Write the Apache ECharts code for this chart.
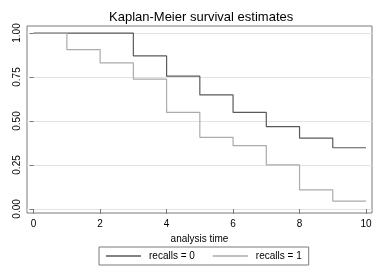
<!DOCTYPE html>
<html><head><meta charset="utf-8">
<script src="https://cdn.jsdelivr.net/npm/echarts@6/dist/echarts.min.js"></script>
<style>html,body{margin:0;padding:0;background:#fff}#c{width:382px;height:278px}</style>
</head><body><div id="c"></div>
<script>
const titleText = 'Kaplan-Meier survival estimates';
const xName = 'analysis time';
const seriesNames = ['recalls = 0', 'recalls = 1'];
const times0 = [0, 3, 4, 5, 6, 7, 8, 9, 10];
const surv0 = [1, 0.87, 0.755, 0.648, 0.549, 0.468, 0.403, 0.348, 0.348];
const times1 = [0, 1, 2, 3, 4, 5, 6, 7, 8, 9, 10];
const surv1 = [1, 0.906, 0.83, 0.738, 0.549, 0.407, 0.36, 0.25, 0.108, 0.045, 0.045];
const xTicks = [0, 2, 4, 6, 8, 10];
const yTicks = [0, 0.25, 0.5, 0.75, 1];

const font = 'Liberation Sans';
const frameColor = '#7a7a7a';
const colors = ['#5a5a5a', '#ababab'];
const chart = echarts.init(document.getElementById('c'));
chart.setOption({
  animation: false,
  backgroundColor: '#fff',
  title: { text: titleText, left: 104, top: 6,
    textStyle: { fontFamily: font, fontSize: 13, fontWeight: 'normal', color: '#000' } },
  grid: { left: 27, right: 10, top: 26, bottom: 65, show: true, borderColor: frameColor, borderWidth: 1, backgroundColor: '#fff' },
  xAxis: {
    type: 'value', min: -0.2, max: 10.18,
    name: xName, nameLocation: 'middle', nameGap: 19,
    nameTextStyle: { fontFamily: font, fontSize: 10, color: '#000' },
    axisLine: { show: false },
    axisTick: { show: true, customValues: xTicks, length: 5, lineStyle: { color: frameColor } },
    axisLabel: { customValues: xTicks, margin: 6, fontFamily: font, fontSize: 10, color: '#000' },
    splitLine: { show: false }
  },
  yAxis: {
    type: 'value', min: -0.023, max: 1.04,
    axisLine: { show: false },
    axisTick: { show: true, customValues: yTicks, length: 4, lineStyle: { color: frameColor } },
    axisLabel: { customValues: yTicks, rotate: 90, margin: 5, fontFamily: font, fontSize: 10, color: '#000',
      formatter: v => v.toFixed(2) },
    splitLine: { show: true, lineStyle: { color: '#e2e2e2', width: 1 } }
  },
  legend: {
    data: seriesNames.map(n => ({ name: n, icon: 'rect' })), left: 99, top: 247, orient: 'horizontal',
    padding: [4, 7, 4, 7], borderColor: frameColor, borderWidth: 1,
    itemGap: 18, itemWidth: 35, itemHeight: 1.3,
    textStyle: { fontFamily: font, fontSize: 10, color: '#000', padding: [0, 0, 0, 3] }
  },
  series: [
    { name: seriesNames[0], type: 'line', step: 'end', symbol: 'none', color: colors[0],
      lineStyle: { width: 1.2, color: colors[0] },
      data: times0.map((t, i) => [t, surv0[i]]) },
    { name: seriesNames[1], type: 'line', step: 'end', symbol: 'none', color: colors[1],
      lineStyle: { width: 1.2, color: colors[1] },
      data: times1.map((t, i) => [t, surv1[i]]) }
  ]
});
</script></body></html>
